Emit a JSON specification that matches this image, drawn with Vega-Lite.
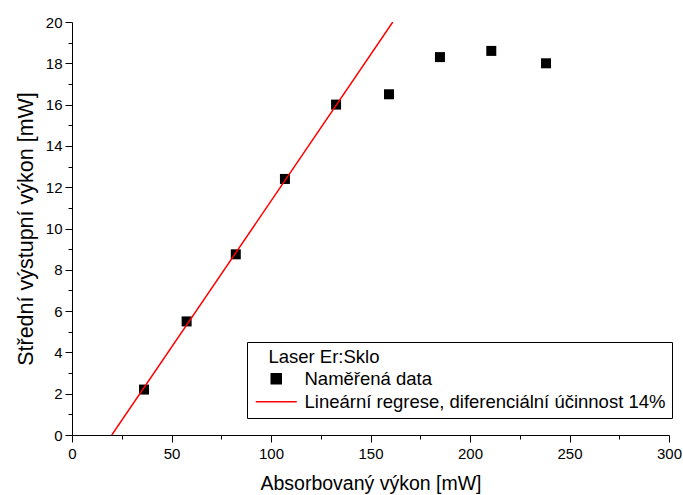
{
  "$schema": "https://vega.github.io/schema/vega-lite/v6.json",
  "width": 597,
  "height": 413,
  "autosize": "none",
  "padding": {"left": 72, "top": 22, "right": 14, "bottom": 60},
  "background": "white",
  "config": {
    "view": {"stroke": null},
    "font": "Liberation Sans",
    "axis": {
      "grid": false,
      "domainColor": "black",
      "domainWidth": 1,
      "tickColor": "black",
      "tickWidth": 1,
      "labelColor": "black",
      "titleColor": "black",
      "labelFont": "Liberation Sans",
      "titleFont": "Liberation Sans",
      "titleFontWeight": "normal",
      "labelFontSize": 15
    },
    "legend": {
      "orient": "none",
      "legendX": 175,
      "legendY": 320,
      "direction": "vertical",
      "strokeColor": "black",
      "fillColor": "white",
      "padding": 6,
      "titleFontSize": 18.5,
      "titleFontWeight": "normal",
      "titleColor": "black",
      "titleFont": "Liberation Sans",
      "titlePadding": 3,
      "labelFontSize": 18.5,
      "labelFont": "Liberation Sans",
      "labelColor": "black",
      "labelLimit": 600,
      "labelOffset": 19,
      "symbolOffset": 14,
      "rowPadding": 4,
      "symbolSize": 100,
      "symbolStrokeWidth": 1.5
    }
  },
  "datasets": {
    "measured": [
      {"absorbed": 36.2, "output": 2.2, "series": "Naměřená data"},
      {"absorbed": 57.6, "output": 5.5, "series": "Naměřená data"},
      {"absorbed": 82.3, "output": 8.75, "series": "Naměřená data"},
      {"absorbed": 107.0, "output": 12.4, "series": "Naměřená data"},
      {"absorbed": 132.7, "output": 16.0, "series": "Naměřená data"},
      {"absorbed": 159.3, "output": 16.5, "series": "Naměřená data"},
      {"absorbed": 184.9, "output": 18.3, "series": "Naměřená data"},
      {"absorbed": 210.7, "output": 18.6, "series": "Naměřená data"},
      {"absorbed": 238.2, "output": 18.0, "series": "Naměřená data"}
    ],
    "fit": [
      {"absorbed": 20.0, "output": 0, "series": "Lineární regrese, diferenciální účinnost 14%"},
      {"absorbed": 161.2, "output": 20, "series": "Lineární regrese, diferenciální účinnost 14%"}
    ]
  },
  "layer": [
    {
      "data": {"name": "measured"},
      "mark": {"type": "point", "shape": "square", "filled": true, "size": 100, "opacity": 1, "strokeWidth": 0},
      "encoding": {
        "x": {
          "field": "absorbed", "type": "quantitative",
          "scale": {"domain": [0, 300], "nice": false, "zero": false},
          "axis": {
            "orient": "bottom",
            "values": [0, 50, 100, 150, 200, 250, 300],
            "tickSize": 7, "labelPadding": 4,
            "title": "Absorbovaný výkon [mW]",
            "titleFontSize": 19.5, "titlePadding": 13,
            "labelFlush": false, "labelOverlap": false
          }
        },
        "y": {
          "field": "output", "type": "quantitative",
          "scale": {"domain": [0, 20], "nice": false},
          "axis": {
            "orient": "left",
            "values": [0, 2, 4, 6, 8, 10, 12, 14, 16, 18, 20],
            "tickSize": 7, "labelPadding": 3,
            "title": "Střední výstupní výkon [mW]",
            "titleFontSize": 21.5, "titlePadding": 8,
            "labelFlush": false, "labelOverlap": false
          }
        },
        "color": {
          "field": "series", "type": "nominal",
          "scale": {
            "domain": ["Naměřená data", "Lineární regrese, diferenciální účinnost 14%"],
            "range": ["black", "red"]
          },
          "legend": {
            "title": "\u200b\u00a0\u00a0\u00a0Laser Er:Sklo",
            "encode": {
              "symbols": {
                "update": {
                  "shape": {"signal": "datum.value === 'Naměřená data' ? 'square' : 'M-4.1,0H4.1'"},
                  "fill": {"signal": "datum.value === 'Naměřená data' ? 'black' : 'transparent'"},
                  "stroke": {"signal": "datum.value === 'Naměřená data' ? 'transparent' : 'red'"},
                  "strokeWidth": {"value": 1.5},
                  "opacity": {"value": 1}
                }
              }
            }
          }
        }
      }
    },
    {
      "data": {"name": "fit"},
      "mark": {"type": "line", "strokeWidth": 1.5, "clip": true},
      "encoding": {
        "x": {"field": "absorbed", "type": "quantitative", "axis": null},
        "y": {"field": "output", "type": "quantitative", "axis": null},
        "color": {
          "field": "series", "type": "nominal",
          "legend": {
            "title": "\u200b\u00a0\u00a0\u00a0Laser Er:Sklo",
            "encode": {
              "symbols": {
                "update": {
                  "shape": {"signal": "datum.value === 'Naměřená data' ? 'square' : 'M-4.1,0H4.1'"},
                  "fill": {"signal": "datum.value === 'Naměřená data' ? 'black' : 'transparent'"},
                  "stroke": {"signal": "datum.value === 'Naměřená data' ? 'transparent' : 'red'"},
                  "strokeWidth": {"value": 1.5},
                  "opacity": {"value": 1}
                }
              }
            }
          }
        }
      }
    },
    {
      "data": {"name": "fit"},
      "mark": {"type": "point", "opacity": 0},
      "encoding": {
        "x": {
          "field": "absorbed", "type": "quantitative",
          "axis": {
            "orient": "bottom", "values": [25, 75, 125, 175, 225, 275],
            "tickSize": 4, "labels": false, "domain": false, "title": null
          }
        },
        "y": {
          "field": "output", "type": "quantitative",
          "axis": {
            "orient": "left", "values": [1, 3, 5, 7, 9, 11, 13, 15, 17, 19],
            "tickSize": 4, "labels": false, "domain": false, "title": null
          }
        }
      }
    }
  ],
  "resolve": {"axis": {"x": "independent", "y": "independent"}}
}
